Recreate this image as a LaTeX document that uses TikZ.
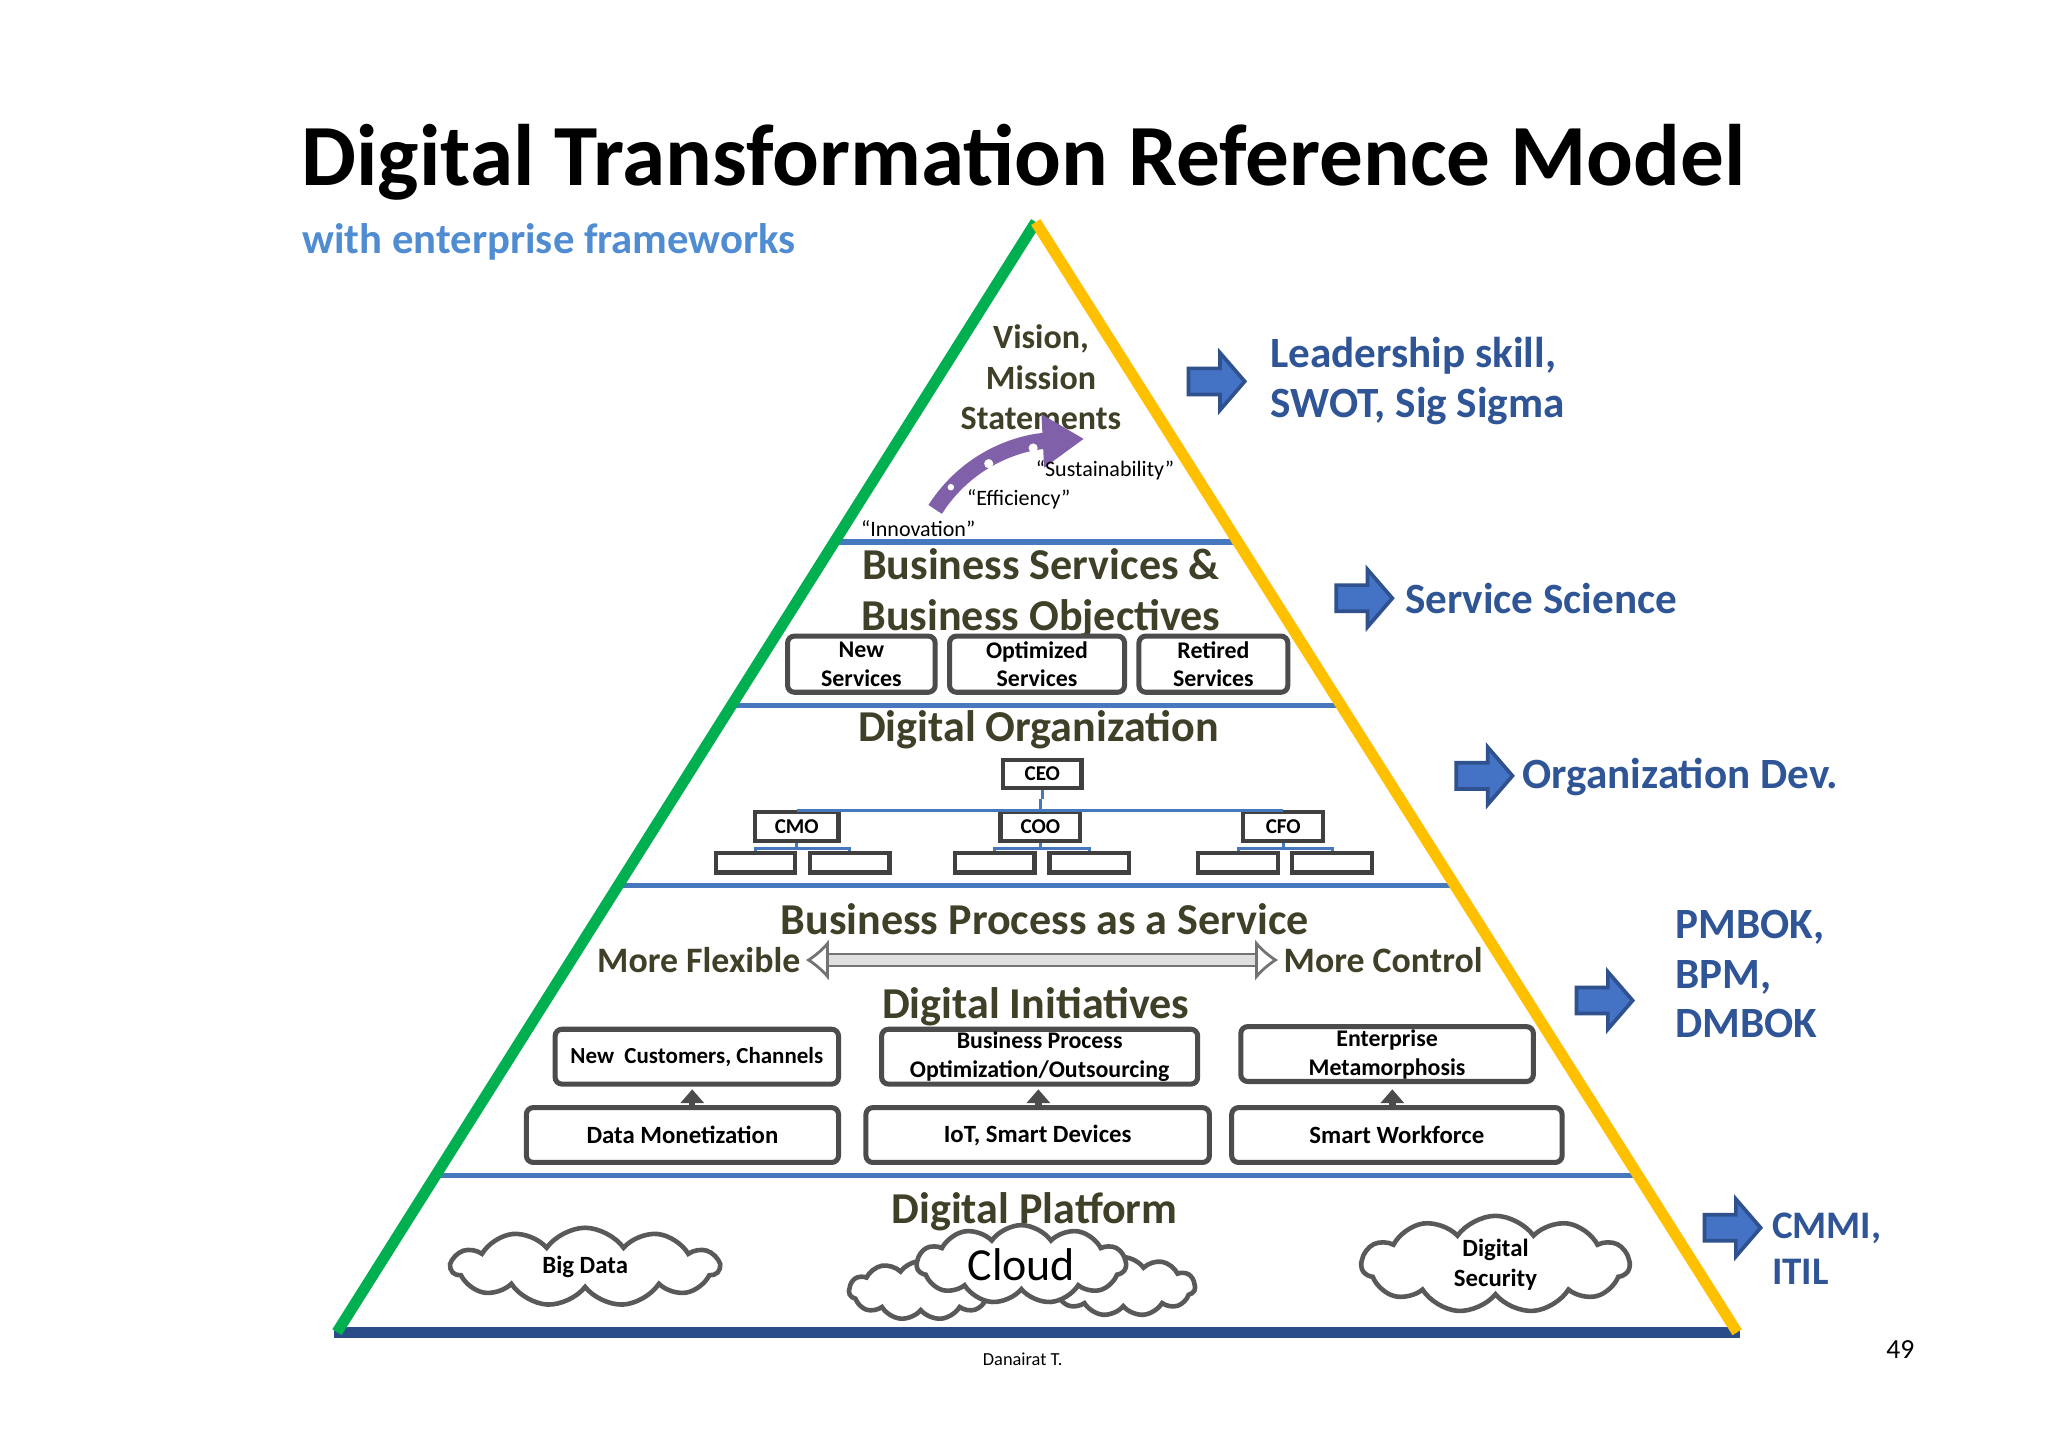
\documentclass[tikz,border=0pt]{standalone}
\usepackage{fontspec}
\setmainfont{Carlito}
\usetikzlibrary{shapes.symbols,arrows.meta}
\definecolor{olive}{RGB}{64,64,40}
\definecolor{band}{RGB}{70,120,190}
\definecolor{rtxt}{RGB}{47,85,151}
\definecolor{sub}{RGB}{80,140,210}
\definecolor{arrf}{RGB}{68,114,196}
\definecolor{arrd}{RGB}{47,82,143}
\definecolor{grn}{RGB}{0,176,80}
\definecolor{ylw}{RGB}{255,192,0}
\definecolor{purp}{RGB}{128,96,168}
\newcommand{\fs}[1]{\fontsize{#1}{#1}\selectfont}
\newdimen\uu \uu=0.01cm
\tikzset{
 lvl/.style={text=olive,font=\fs{9.6}\bfseries,align=center},
 sbox/.style={draw=black!70,line width=1.1pt,rounded corners=1.5pt,fill=white,font=\fs{5.2}\bfseries,align=center,inner sep=0pt},
 obox/.style={draw=black!75,line width=0.9pt,fill=white,font=\fs{4.6}\bfseries,inner sep=0pt},
 rt/.style={text=rtxt,font=\fs{9.4}\bfseries,align=left,anchor=west,inner sep=0pt},
 cl/.style={cloud,cloud puffs=11,cloud puff arc=110,aspect=2.6,draw=black!65,line width=1pt,fill=white,inner sep=0pt},
 org/.style={band,line width=0.6pt},
 uparr/.style={-{Triangle[length=3pt,width=5pt]},line width=1.4pt,black!70}
}
\newcommand{\barr}[2]{%
\fill[arrf,draw=arrd,line width=0.8pt] (#1,#2-10) -- (#1+24,#2-10) -- (#1+24,#2-22) -- (#1+43,#2) -- (#1+24,#2+22) -- (#1+24,#2+10) -- (#1,#2+10) -- cycle;}
\begin{document}
\begin{tikzpicture}[x=0.01cm,y=-0.01cm]
\useasboundingbox[fill=white] (0,0) rectangle (1568,1108);
\node[anchor=west,inner sep=0pt,font=\fs{19}\bfseries] (title) at (230,124) {Digital Transformation Reference Model};
\node[anchor=west,inner sep=0pt,text=sub,font=\fs{9.3}\bfseries] (subt) at (231,185) {with enterprise frameworks};
% bands
\draw[band,line width=1.2pt] (639,415) -- (948,415);
\draw[band,line width=1.2pt] (560,540) -- (1027,540);
\draw[band,line width=1.2pt] (473,678) -- (1114,678);
\draw[band,line width=1.2pt] (333,900) -- (1254,900);
% edges
\draw[rtxt!90!black,line width=2.4pt] (256,1020) -- (1332,1020);
\draw[grn,line width=2.4pt] (258,1020) -- (793,170);
\draw[ylw,line width=2.4pt] (793,170) -- (1330,1020);
% top
\node[lvl,font=\fs{7.4}\bfseries] (vis) at (797,289) {Vision,\\[1.4pt]Mission\\[1.4pt]Statements};
\draw[purp,line width=3.5pt,-{Triangle[length=9pt,width=11pt]}] (716,390) .. controls (745,345) and (790,338) .. (830,336);
\fill[white] (757,355) circle (3.5); \fill[white] (791,343) circle (3.5); \fill[white] (728,373) circle (2.5);
\node[font=\fs{4.8}] (s1) at (846,360) {“Sustainability”};
\node[font=\fs{4.8}] (s2) at (780,382) {“Efficiency”};
\node[font=\fs{4.8}] (s3) at (703,405) {“Innovation”};
% business services
\node[lvl] (bs) at (797,454) {Business Services \&\\[1.4pt]Business Objectives};
\node[sbox,minimum width=113\uu,minimum height=43\uu] (ns) at (659.5,508.5) {New\\[1.1pt]Services};
\node[sbox,minimum width=134\uu,minimum height=43\uu] (os) at (794,508.5) {Optimized\\[1.1pt]Services};
\node[sbox,minimum width=114\uu,minimum height=43\uu] (rs) at (929,508.5) {Retired\\[1.1pt]Services};
% org
\node[lvl] (dorg) at (795,559) {Digital Organization};
\node[obox,minimum width=60\uu,minimum height=21\uu] (ceo) at (798,592.5) {CEO};
\node[obox,minimum width=64\uu,minimum height=22\uu] (cmo) at (610,633) {CMO};
\node[obox,minimum width=61\uu,minimum height=22\uu] (coo) at (796.5,633) {COO};
\node[obox,minimum width=61\uu,minimum height=22\uu] (cfo) at (982.5,633) {CFO};
\draw[org] (ceo.south) -- (798,612) (cmo.north) |- (cfo.north) (coo.north) -- (796.5,612);
\foreach \p/\a/\b in {cmo/578.5/650.5,coo/761.5/834,cfo/948/1020}{
  \node[obox,minimum width=61\uu,minimum height=15\uu] (\p a) at (\a,660.5) {};
  \node[obox,minimum width=61\uu,minimum height=15\uu] (\p b) at (\b,660.5) {};
  \draw[org] (\p.south) -- ++(0,4) coordinate (\p m);
  \draw[org] (\p a.north) |- (\p m) -| (\p b.north);
}
% bpaas
\node[lvl] (bp) at (800,704) {Business Process as a Service};
\node[lvl,font=\fs{7.8}\bfseries,inner sep=1pt] (mf) at (535,735) {More Flexible};
\node[lvl,font=\fs{7.8}\bfseries,inner sep=1pt] (mc) at (1059,735) {More Control};
\draw[black!55,line width=0.6pt,double=black!12,double distance=2pt,{Latex[open,length=5pt,width=9pt]}-{Latex[open,length=5pt,width=9pt]}] (mf.east) -- (mc.west);
\node[lvl] (di) at (793,771) {Digital Initiatives};
\node[sbox,minimum width=217\uu,minimum height=42\uu,font=\fs{5}\bfseries] (nc) at (533.5,809) {New~ Customers, Channels};
\node[sbox,minimum width=242\uu,minimum height=42\uu] (bpo) at (796,809) {Business Process\\[1.1pt]Optimization/Outsourcing};
\node[sbox,minimum width=224\uu,minimum height=42\uu] (em) at (1062,807) {Enterprise\\[1.1pt]Metamorphosis};
\node[sbox,minimum width=239\uu,minimum height=42\uu,font=\fs{5.4}\bfseries] (dm) at (522.5,869) {Data Monetization};
\node[sbox,minimum width=263\uu,minimum height=42\uu,font=\fs{5.4}\bfseries] (iot) at (794.5,869) {IoT, Smart Devices};
\node[sbox,minimum width=253\uu,minimum height=42\uu,font=\fs{5.4}\bfseries] (sw) at (1069.5,869) {Smart Workforce};
\draw[uparr] (530,846) -- (530,834);
\draw[uparr] (795,846) -- (795,834);
\draw[uparr] (1066,846) -- (1066,834);
% platform
\node[lvl] (dp) at (792,928) {Digital Platform};
\node[cl,minimum width=205\uu,minimum height=60\uu,font=\fs{5.4}\bfseries] (bd) at (448,970) {Big Data};
\node[cl,minimum width=110\uu,minimum height=45\uu] (c1) at (705,988) {};
\node[cl,minimum width=110\uu,minimum height=45\uu] (c2) at (860,985) {};
\node[cl,minimum width=160\uu,minimum height=60\uu,font=\fs{10}] (cld) at (782,968) {Cloud};
\node[cl,minimum width=205\uu,minimum height=62\uu,font=\fs{5.4}\bfseries,align=center] (ds) at (1145,968) {Digital\\[1.1pt]Security};
% right
\barr{910}{292}
\node[rt] (r1) at (972,292) {Leadership skill,\\[1.5pt]SWOT, Sig Sigma};
\barr{1023}{458}
\node[rt] (r2) at (1075,458) {Service Science};
\barr{1115}{594}
\node[rt] (r3) at (1165,595) {Organization Dev.};
\barr{1207}{766}
\node[rt] (r4) at (1282,746) {PMBOK,\\[1.4pt]BPM,\\[1.4pt]DMBOK};
\barr{1305}{940}
\node[rt,font=\fs{8.5}\bfseries] (r5) at (1356,956) {CMMI,\\[1.7pt]ITIL};
\node[font=\fs{4}] (auth) at (783,1041) {Danairat T.};
\node[font=\fs{6}] (pg) at (1455,1033) {49};
\end{tikzpicture}
\end{document}
